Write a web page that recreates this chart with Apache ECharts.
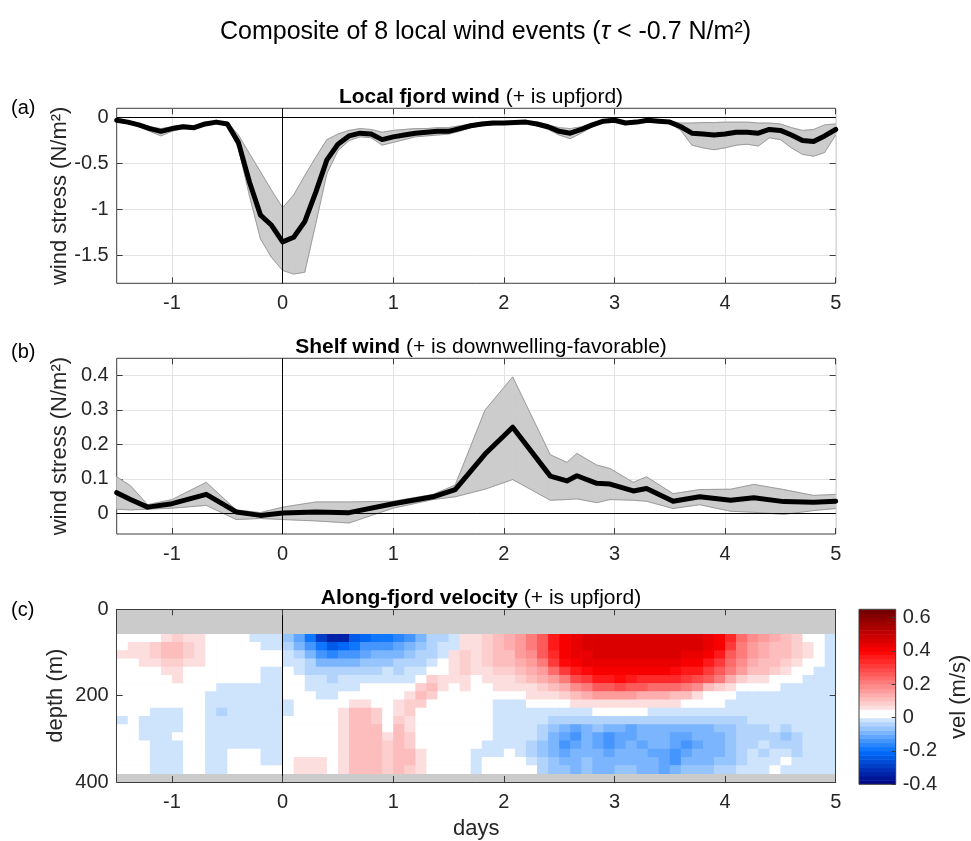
<!DOCTYPE html>
<html>
<head>
<meta charset="utf-8">
<script src="https://cdn.jsdelivr.net/npm/echarts@6/dist/echarts.min.js"></script>
<style>
  html, body { margin: 0; padding: 0; background: #ffffff; }
  #chart { width: 971px; height: 841px; }
</style>
</head>
<body>
<div id="chart"></div>
<script>
// ---------- (a) local fjord wind stress composite (N/m^2) ----------
const fjordDays = [-1.5,-1.4,-1.3,-1.2,-1.1,-1.0,-0.9,-0.8,-0.7,-0.6,-0.5,-0.4,-0.3,-0.2,-0.1,0,0.1,0.2,0.3,0.4,0.5,0.6,0.7,0.8,0.9,1.0,1.1,1.2,1.3,1.4,1.5,1.6,1.7,1.8,1.9,2.0,2.1,2.2,2.3,2.4,2.5,2.6,2.7,2.8,2.9,3.0,3.1,3.2,3.3,3.4,3.5,3.6,3.7,3.8,3.9,4.0,4.1,4.2,4.3,4.4,4.5,4.6,4.7,4.8,4.9,5.0];
const fjordMean = [-0.03,-0.05,-0.08,-0.12,-0.15,-0.12,-0.10,-0.11,-0.07,-0.05,-0.07,-0.27,-0.70,-1.06,-1.17,-1.35,-1.30,-1.13,-0.81,-0.46,-0.29,-0.20,-0.17,-0.18,-0.24,-0.21,-0.19,-0.17,-0.16,-0.15,-0.15,-0.12,-0.09,-0.07,-0.06,-0.06,-0.055,-0.05,-0.07,-0.10,-0.15,-0.17,-0.13,-0.08,-0.04,-0.03,-0.06,-0.05,-0.03,-0.04,-0.05,-0.10,-0.17,-0.18,-0.19,-0.18,-0.16,-0.16,-0.17,-0.13,-0.14,-0.19,-0.25,-0.26,-0.20,-0.13];
const fjordLow  = [-0.04,-0.06,-0.10,-0.15,-0.20,-0.15,-0.12,-0.13,-0.08,-0.06,-0.09,-0.33,-0.85,-1.32,-1.52,-1.66,-1.70,-1.68,-1.15,-0.61,-0.36,-0.25,-0.21,-0.22,-0.30,-0.27,-0.24,-0.21,-0.20,-0.19,-0.18,-0.15,-0.11,-0.09,-0.08,-0.07,-0.07,-0.06,-0.09,-0.13,-0.19,-0.23,-0.17,-0.10,-0.05,-0.04,-0.07,-0.06,-0.04,-0.05,-0.06,-0.14,-0.30,-0.33,-0.35,-0.33,-0.30,-0.29,-0.31,-0.22,-0.24,-0.33,-0.40,-0.42,-0.38,-0.19];
const fjordHigh = [-0.02,-0.04,-0.07,-0.10,-0.12,-0.10,-0.08,-0.09,-0.05,-0.04,-0.05,-0.19,-0.39,-0.59,-0.79,-0.98,-0.84,-0.63,-0.43,-0.24,-0.18,-0.14,-0.12,-0.13,-0.16,-0.14,-0.13,-0.12,-0.12,-0.11,-0.11,-0.09,-0.07,-0.06,-0.05,-0.05,-0.045,-0.04,-0.05,-0.08,-0.11,-0.12,-0.10,-0.06,-0.03,-0.02,-0.05,-0.04,-0.02,-0.03,-0.04,-0.06,-0.06,-0.055,-0.055,-0.05,-0.05,-0.05,-0.06,-0.06,-0.07,-0.11,-0.14,-0.13,-0.08,-0.07];

// ---------- (b) shelf wind stress composite (N/m^2) ----------
const shelfDays = [-1.5,-1.375,-1.22,-1.0,-0.69,-0.42,-0.2,0,0.3,0.6,1.0,1.36,1.56,1.83,2.08,2.42,2.57,2.66,2.84,2.96,3.17,3.29,3.53,3.77,4.05,4.26,4.53,4.8,5.0];
const shelfMean = [0.060,0.040,0.018,0.028,0.055,0.004,-0.006,0.001,0.004,0.002,0.028,0.048,0.069,0.172,0.250,0.108,0.094,0.109,0.087,0.085,0.065,0.072,0.035,0.048,0.038,0.045,0.034,0.032,0.035];
const shelfLow  = [0.012,0.010,0.012,0.015,0.023,-0.018,-0.015,-0.018,-0.022,-0.028,0.015,0.040,0.048,0.070,0.098,0.038,0.040,0.042,0.031,0.040,0.038,0.035,0.014,0.025,0.006,0.003,-0.003,0.008,0.014];
const shelfHigh = [0.106,0.080,0.025,0.040,0.090,0.010,0.002,0.018,0.033,0.033,0.035,0.055,0.082,0.300,0.396,0.170,0.148,0.174,0.140,0.130,0.090,0.106,0.057,0.069,0.070,0.084,0.069,0.052,0.055];

// ---------- (c) along-fjord velocity composite ----------
// cell centres: time (days) and depth (m); values in cm/s
const velDays = [-1.45,-1.35,-1.25,-1.15,-1.05,-0.95,-0.85,-0.75,-0.65,-0.55,-0.45,-0.35,-0.25,-0.15,-0.05,0.05,0.15,0.25,0.35,0.45,0.55,0.65,0.75,0.85,0.95,1.05,1.15,1.25,1.35,1.45,1.55,1.65,1.75,1.85,1.95,2.05,2.15,2.25,2.35,2.45,2.55,2.65,2.75,2.85,2.95,3.05,3.15,3.25,3.35,3.45,3.55,3.65,3.75,3.85,3.95,4.05,4.15,4.25,4.35,4.45,4.55,4.65,4.75,4.85,4.95];
const velDepth = [66.5,85.5,104.5,123.5,142.5,161.5,180.5,199.5,218.5,237.5,256.5,275.5,294.5,313.5,332.5,351.5,370.5];
const velCm = [
  [2,2,2,2,6,9,6,6,2,2,2,2,-1,-1,-1, -6,-12,-20,-28,-35,-33,-24,-22,-20,-18,-17,-14,-9,-5,-3,-1, 6,7,9,12,14,17,21,27,35,41,44,45,46,46,45,46,46,46,46,46,46,45,44,42,34,24,18,15,13,11,8,4,2,-1],
  [2,6,6,9,11,11,9,6,2,2,2,2,2,-1,-1, -4,-9,-15,-20,-24,-22,-18,-15,-14,-13,-12,-9,-6,-4,-2,-1, 6,6,8,11,13,16,20,26,36,42,44,45,46,46,46,46,47,47,46,46,46,45,44,40,30,22,17,14,12,10,8,5,2,-1],
  [6,6,6,9,11,11,9,6,2,2,2,2,2,2,2, -1,-4,-9,-13,-16,-15,-13,-11,-10,-9,-8,-6,-4,-3,-1,6, 9,6,9,11,12,15,19,25,34,41,43,44,45,45,45,46,46,46,46,45,44,43,41,36,27,20,16,13,12,10,8,7,3,-1],
  [2,2,6,6,9,9,6,6,2,2,2,2,2,2,2, -1,-2,-5,-8,-10,-9,-8,-6,-6,-6,-5,-4,-3,-1,2,6, 9,6,8,10,11,13,16,22,30,38,42,43,44,44,44,44,44,44,44,43,42,40,37,31,24,18,14,12,10,8,6,3,2,-1],
  [2,2,2,2,6,6,2,2,2,2,2,2,2,-1,-1, 2,-1,-3,-4,-5,-4,-4,-3,-3,-2,-3,-2,-1,2,2,6, 8,6,7,8,9,11,13,17,23,30,35,39,41,42,42,41,40,41,40,39,37,35,32,27,21,16,12,10,8,6,3,2,-1,-1],
  [2,2,2,2,2,6,2,2,2,2,2,2,2,-1,-1, 2,2,-1,-2,-3,-2,-1,-1,-1,-1,-1,-1,2,9,6,6, 6,2,6,6,7,9,10,13,17,22,28,32,35,37,38,36,33,34,33,33,31,29,26,22,14,9,6,5,3,2,2,-1,-1,-1],
  [2,2,2,2,2,2,2,2,2,-1,-1,-1,-1,-1,-1, 2,2,-1,-1,-1,-1,-1,2,2,2,2,2,9,10,6,2, 6,2,2,6,6,6,7,9,11,14,18,22,25,27,28,27,25,24,24,24,22,19,12,9,6,3,2,2,2,-1,-1,-1,-1,-1],
  [2,2,2,2,2,2,2,2,-1,-1,-1,-1,-1,-1,-1, 2,2,2,-1,-1,2,2,2,2,2,2,6,10,8,2,2, 2,2,2,2,2,3,6,6,7,9,11,13,15,16,16,15,14,13,13,12,11,6,4,2,2,-1,-1,-1,-1,-1,-1,-1,-1,-1],
  [2,2,2,2,2,2,2,2,-1,-1,-1,-1,-1,-1,-1, -1,2,2,2,2,2,6,6,2,2,6,8,9,2,2,2, 2,2,2,-1,-1,-1,2,2,3,4,6,6,7,7,7,6,6,6,6,5,4,3,2,2,-1,-1,-1,-1,-1,-1,-1,-1,-1,-1],
  [2,2,2,-1,-1,-1,2,2,-1,-4,-1,-1,-1,-1,-1, -1,2,2,2,2,6,10,10,8,2,6,8,2,2,2,2, 2,2,2,-1,-1,-1,-1,-1,-1,-1,-1,-1,2,2,2,2,2,-1,-1,-1,-1,-1,-1,-1,-1,-1,-1,-1,-1,-1,-1,-1,-1,-1],
  [-1,2,-1,-1,-1,-1,2,2,-1,-1,-1,-1,-1,-1,-1, 2,2,2,2,2,6,10,10,8,2,8,6,2,2,2,2, 2,2,2,-1,-1,-1,-1,-1,-4,-4,-4,-4,-4,-4,-4,-4,-4,-4,-4,-4,-4,-4,-4,-4,-4,-4,-1,-1,-1,-1,-1,-1,-1,-1],
  [2,2,-1,-1,-1,-1,2,2,-1,-1,-1,-1,-1,-1,-1, 2,2,2,2,2,6,10,10,10,2,10,6,2,2,2,2, 2,2,2,-1,-1,-1,-1,-4,-6,-9,-11,-9,-6,-9,-9,-11,-9,-9,-9,-9,-9,-9,-9,-6,-6,-4,-4,-4,-1,-4,-1,-1,-1,-1],
  [2,2,-1,-1,-1,2,2,2,-1,-1,-1,-1,-1,-1,-1, 2,2,2,2,2,6,10,10,10,6,10,8,2,2,2,2, 2,2,2,-1,-1,-1,-1,-4,-9,-11,-13,-9,-11,-13,-11,-11,-9,-9,-9,-11,-11,-9,-9,-9,-6,-4,-4,-4,-4,-6,-4,-1,-1,-1],
  [2,2,2,-1,-1,-1,2,2,-1,-1,-1,-1,-1,-1,-1, 2,2,2,2,2,6,10,10,10,8,10,8,2,2,2,2, 2,2,-1,-1,-1,-1,-4,-6,-9,-13,-11,-9,-11,-13,-11,-9,-11,-9,-9,-11,-13,-11,-9,-9,-6,-4,-4,-1,-4,-4,-4,-1,-1,-1],
  [2,2,2,-1,-1,-1,2,2,-1,-1,2,2,2,-1,-1, 2,2,2,2,2,6,10,10,10,8,10,10,6,2,2,2, 2,-1,-1,-1,2,-1,-4,-6,-9,-11,-9,-9,-9,-11,-9,-9,-9,-11,-11,-13,-11,-9,-9,-9,-6,-4,-1,-4,-1,-1,-4,-1,-1,-1],
  [2,2,2,-1,-1,-1,2,2,-1,-1,2,2,2,-1,-1, 2,6,6,6,2,6,10,10,10,8,10,10,6,2,2,2, 2,-1,2,2,2,2,-1,-4,-6,-9,-9,-6,-9,-9,-9,-9,-9,-9,-11,-13,-9,-9,-9,-6,-6,-4,-1,-1,-1,2,-1,-1,-1,-1],
  [2,2,2,-1,-1,-1,2,2,-1,-1,2,2,2,2,2, 2,6,6,6,2,6,10,10,10,8,10,8,6,2,2,2, 2,-1,2,2,2,2,2,-4,-6,-6,-9,-6,-9,-9,-6,-6,-9,-9,-11,-9,-6,-6,-6,-4,-4,-1,-1,-1,2,-1,-1,-1,-1,-1]
];

// contour levels of the velocity colour scale (m/s)
const velLevels = [-0.4,-0.375,-0.35,-0.325,-0.3,-0.275,-0.25,-0.225,-0.2,-0.175,-0.15,-0.125,-0.1,-0.075,-0.05,-0.025,0,0.025,0.05,0.075,0.1,0.125,0.15,0.175,0.2,0.225,0.25,0.275,0.3,0.325,0.35,0.375,0.4,0.425,0.45,0.475,0.5,0.525,0.55,0.575,0.6,0.625,0.65];

// tick values
const dayTicks = [-1, 0, 1, 2, 3, 4, 5];
const fjordTicks = [-1.5, -1, -0.5, 0];
const shelfTicks = [0, 0.1, 0.2, 0.3, 0.4];
const depthTicks = [0, 200, 400];
const velTicks = [-0.4, -0.2, 0, 0.2, 0.4, 0.6];

// ---------- styling ----------
const FONT = '"Liberation Sans", Arial, Helvetica, sans-serif';
const INK = '#262626';
const BOX = '#3c3c3c';
const GRIDLINE = '#e4e4e4';
const BAND_FILL = '#cccccc';
const BAND_EDGE = '#8e8e8e';
const NODATA = '#cbcbcb';

// diverging blue-white-red scale, one colour per contour interval
const NEG_RAMP = [[-0.0125, [205, 228, 252]], [-0.2, [0, 110, 255]], [-0.4, [0, 0, 128]]];
const POS_RAMP = [[0.0625, [253, 222, 222]], [0.4, [255, 0, 0]], [0.65, [110, 0, 0]]];
function rampColor(stops, c) {
  for (let k = 0; k < stops.length - 1; k++) {
    const v0 = stops[k][0], c0 = stops[k][1], v1 = stops[k + 1][0], c1 = stops[k + 1][1];
    const f = (c - v0) / (v1 - v0);
    if (f <= 1 || k === stops.length - 2) {
      const g = Math.max(0, Math.min(1, f));
      return 'rgb(' + c0.map((x, i) => Math.round(x + (c1[i] - x) * g)).join(',') + ')';
    }
  }
}
function levelColor(center) {
  if (center >= 0 && center < 0.05) return '#ffffff';
  return center < 0 ? rampColor(NEG_RAMP, center) : rampColor(POS_RAMP, center);
}
function velColor(v) {
  let k = velLevels.length - 2;
  for (let i = 0; i < velLevels.length - 1; i++) {
    if (v < velLevels[i + 1]) { k = i; break; }
  }
  return levelColor((velLevels[k] + velLevels[k + 1]) / 2);
}

// ---------- series data ----------
const pairs = (xs, ys) => xs.map((x, i) => [x, ys[i]]);

const velCells = [];
velCm.forEach((row, j) => row.forEach((v, i) => velCells.push([velDays[i], velDepth[j], v / 100])));
const cellW = velDays[1] - velDays[0];
const cellH = velDepth[1] - velDepth[0];
const velBins = velLevels.slice(0, -1).map((lo, k) => [lo, velLevels[k + 1]]);

// ---------- axis helpers ----------
const tickLine = { color: BOX, width: 1 };
const labelStyle = { fontSize: 20, color: INK, fontFamily: FONT };
const nameStyle = { fontSize: 22, color: INK, fontFamily: FONT };

function daysAxis(gridIndex, position, extra) {
  const bottom = position === 'bottom';
  return Object.assign({
    type: 'value', gridIndex, position, min: -1.5, max: 5,
    axisLine: { show: false, onZero: false },
    axisTick: { show: true, inside: true, length: 6, lineStyle: tickLine, customValues: dayTicks },
    axisLabel: Object.assign({ show: bottom, customValues: dayTicks, margin: 10 }, labelStyle),
    splitLine: { show: false }
  }, extra || {});
}
function valueAxis(gridIndex, position, min, max, ticks, extra) {
  const left = position === 'left';
  return Object.assign({
    type: 'value', gridIndex, position, min, max,
    axisLine: { show: false, onZero: false },
    axisTick: { show: true, inside: true, length: 6, lineStyle: tickLine, customValues: ticks },
    axisLabel: Object.assign({ show: left, customValues: ticks, margin: 8 }, labelStyle),
    splitLine: { show: false }
  }, extra || {});
}
const gridLines = { show: true, lineStyle: { color: GRIDLINE, width: 1 } };
const boxLine = { show: true, onZero: false, lineStyle: { color: BOX, width: 1 } };
const sideName = (text, gap) => ({
  name: text, nameLocation: 'middle', nameGap: gap, nameMoveOverlap: false, nameTextStyle: nameStyle
});

const zeroMark = (items) => ({
  silent: true, symbol: 'none', animation: false,
  label: { show: false },
  lineStyle: { color: '#000000', width: 1, type: 'solid' },
  data: items
});

// spread band (filled between low and high), its edges, and the mean curve
function bandSeries(xIdx, yIdx, xs, lo, hi, mean, marks) {
  return [
    {
      type: 'custom', xAxisIndex: xIdx, yAxisIndex: yIdx, z: 1, clip: true,
      data: xs.map((x, i) => [x, lo[i], hi[i]]),
      encode: { x: 0, y: [1, 2] },
      renderItem: function (params, api) {
        const i = params.dataIndexInside;
        if (i >= xs.length - 1) return null;
        const pts = [
          api.coord([api.value(0, i), api.value(1, i)]),
          api.coord([api.value(0, i + 1), api.value(1, i + 1)]),
          api.coord([api.value(0, i + 1), api.value(2, i + 1)]),
          api.coord([api.value(0, i), api.value(2, i)])
        ];
        return { type: 'polygon', shape: { points: pts }, style: { fill: BAND_FILL, stroke: BAND_FILL, lineWidth: 0.7 } };
      }
    },
    {
      type: 'line', xAxisIndex: xIdx, yAxisIndex: yIdx, data: pairs(xs, lo),
      showSymbol: false, symbol: 'none', lineStyle: { color: BAND_EDGE, width: 0.8 }, z: 2
    },
    {
      type: 'line', xAxisIndex: xIdx, yAxisIndex: yIdx, data: pairs(xs, hi),
      showSymbol: false, symbol: 'none', lineStyle: { color: BAND_EDGE, width: 0.8 }, z: 2
    },
    {
      type: 'line', xAxisIndex: xIdx, yAxisIndex: yIdx,
      data: pairs(xs, mean), showSymbol: false, symbol: 'none',
      lineStyle: { color: '#000000', width: 5, join: 'round', cap: 'round' }, z: 4,
      markLine: zeroMark(marks)
    }
  ];
}

const chart = echarts.init(document.getElementById('chart'), null, { renderer: 'canvas' });

const panelTitle = (text, top) => ({
  text, left: 476, textAlign: 'center', top,
  textStyle: { fontSize: 21, fontWeight: 'normal', color: '#000', fontFamily: FONT,
    rich: { b: { fontSize: 21, fontWeight: 'bold', fontFamily: FONT, color: '#000' } } }
});

const option = {
  animation: false,
  backgroundColor: '#ffffff',
  textStyle: { fontFamily: FONT },
  title: [
    {
      text: 'Composite of 8 local wind events ({t|τ} < -0.7 N/m²)',
      left: 'center', top: 15,
      textStyle: { fontSize: 25, fontWeight: 'normal', color: '#000', fontFamily: FONT,
        rich: { t: { fontSize: 25, fontStyle: 'italic', fontFamily: FONT, color: '#000' } } }
    },
    panelTitle('{b|Local fjord wind} (+ is upfjord)', 82),
    panelTitle('{b|Shelf wind} (+ is downwelling-favorable)', 332),
    panelTitle('{b|Along-fjord velocity} (+ is upfjord)', 583)
  ],
  graphic: [
    { type: 'text', x: 11, y: 108, style: { text: '(a)', font: '20px ' + FONT, fill: '#000', verticalAlign: 'middle' } },
    { type: 'text', x: 11, y: 352, style: { text: '(b)', font: '20px ' + FONT, fill: '#000', verticalAlign: 'middle' } },
    { type: 'text', x: 11, y: 610, style: { text: '(c)', font: '20px ' + FONT, fill: '#000', verticalAlign: 'middle' } }
  ],
  grid: [
    { left: 116.7, top: 108.3, width: 719, height: 175, show: true, borderColor: BOX, borderWidth: 1, backgroundColor: 'transparent' },
    { left: 116.7, top: 358.3, width: 719, height: 175.7, show: true, borderColor: BOX, borderWidth: 1, backgroundColor: 'transparent' },
    { left: 116.7, top: 609.3, width: 719, height: 175, show: true, borderWidth: 0, backgroundColor: NODATA },
    { left: 859, top: 609.3, width: 36.7, height: 175, show: true, borderColor: BOX, borderWidth: 1, backgroundColor: 'transparent', z: 10 }
  ],
  xAxis: [
    daysAxis(0, 'bottom', { splitLine: gridLines }),
    daysAxis(0, 'top'),
    daysAxis(1, 'bottom', { splitLine: gridLines }),
    daysAxis(1, 'top'),
    daysAxis(2, 'bottom', Object.assign({ z: 10, axisLine: boxLine }, sideName('days', 36))),
    daysAxis(2, 'top', { z: 10, axisLine: boxLine }),
    { type: 'value', gridIndex: 3, min: 0, max: 1, show: false }
  ],
  yAxis: [
    valueAxis(0, 'left', -1.8, 0.1, fjordTicks, Object.assign({ splitLine: gridLines }, sideName('wind stress (N/m²)', 46))),
    valueAxis(0, 'right', -1.8, 0.1, fjordTicks),
    valueAxis(1, 'left', -0.06, 0.45, shelfTicks, Object.assign({ splitLine: gridLines }, sideName('wind stress (N/m²)', 46))),
    valueAxis(1, 'right', -0.06, 0.45, shelfTicks),
    valueAxis(2, 'left', 0, 400, depthTicks, Object.assign({ inverse: true, z: 10, axisLine: boxLine }, sideName('depth (m)', 50))),
    valueAxis(2, 'right', 0, 400, depthTicks, { inverse: true, z: 10, axisLine: boxLine }),
    Object.assign({
      type: 'value', gridIndex: 3, position: 'right', min: -0.4, max: 0.65, z: 11,
      axisLine: { show: false, onZero: false },
      axisTick: { show: true, inside: true, length: 4, lineStyle: tickLine, customValues: velTicks },
      axisLabel: Object.assign({ show: true, customValues: velTicks, margin: 7 }, labelStyle),
      splitLine: { show: false },
      nameRotate: 90
    }, sideName('vel (m/s)', 52))
  ],
  series: [
    ...bandSeries(0, 0, fjordDays, fjordLow, fjordHigh, fjordMean, [{ xAxis: 0 }, { yAxis: 0 }]),
    ...bandSeries(2, 2, shelfDays, shelfLow, shelfHigh, shelfMean, [{ xAxis: 0 }, { yAxis: 0 }]),
    {
      type: 'custom', name: 'velocity', xAxisIndex: 4, yAxisIndex: 4, clip: true, z: 2,
      data: velCells,
      encode: { x: 0, y: 1 },
      renderItem: function (params, api) {
        const t = api.value(0), d = api.value(1), v = api.value(2);
        const a = api.coord([t - cellW / 2, d - cellH / 2]);
        const b = api.coord([t + cellW / 2, d + cellH / 2]);
        const x0 = Math.min(a[0], b[0]), x1 = Math.max(a[0], b[0]);
        const y0 = Math.min(a[1], b[1]), y1 = Math.max(a[1], b[1]);
        return {
          type: 'rect',
          shape: { x: x0, y: y0, width: x1 - x0 + 0.6, height: y1 - y0 + 0.6 },
          style: { fill: velColor(v) }
        };
      },
      markLine: zeroMark([{ xAxis: 0 }])
    },
    {
      type: 'custom', name: 'colorbar', xAxisIndex: 6, yAxisIndex: 6, clip: true, z: 2,
      data: velBins,
      encode: { y: [0, 1] },
      renderItem: function (params, api) {
        const lo = api.value(0), hi = api.value(1);
        const a = api.coord([0, lo]);
        const b = api.coord([1, hi]);
        const y0 = Math.min(a[1], b[1]), y1 = Math.max(a[1], b[1]);
        return {
          type: 'rect',
          shape: { x: Math.min(a[0], b[0]), y: y0, width: Math.abs(b[0] - a[0]), height: y1 - y0 + 0.5 },
          style: { fill: levelColor((lo + hi) / 2) }
        };
      }
    }
  ]
};

chart.setOption(option);
</script>
</body>
</html>
